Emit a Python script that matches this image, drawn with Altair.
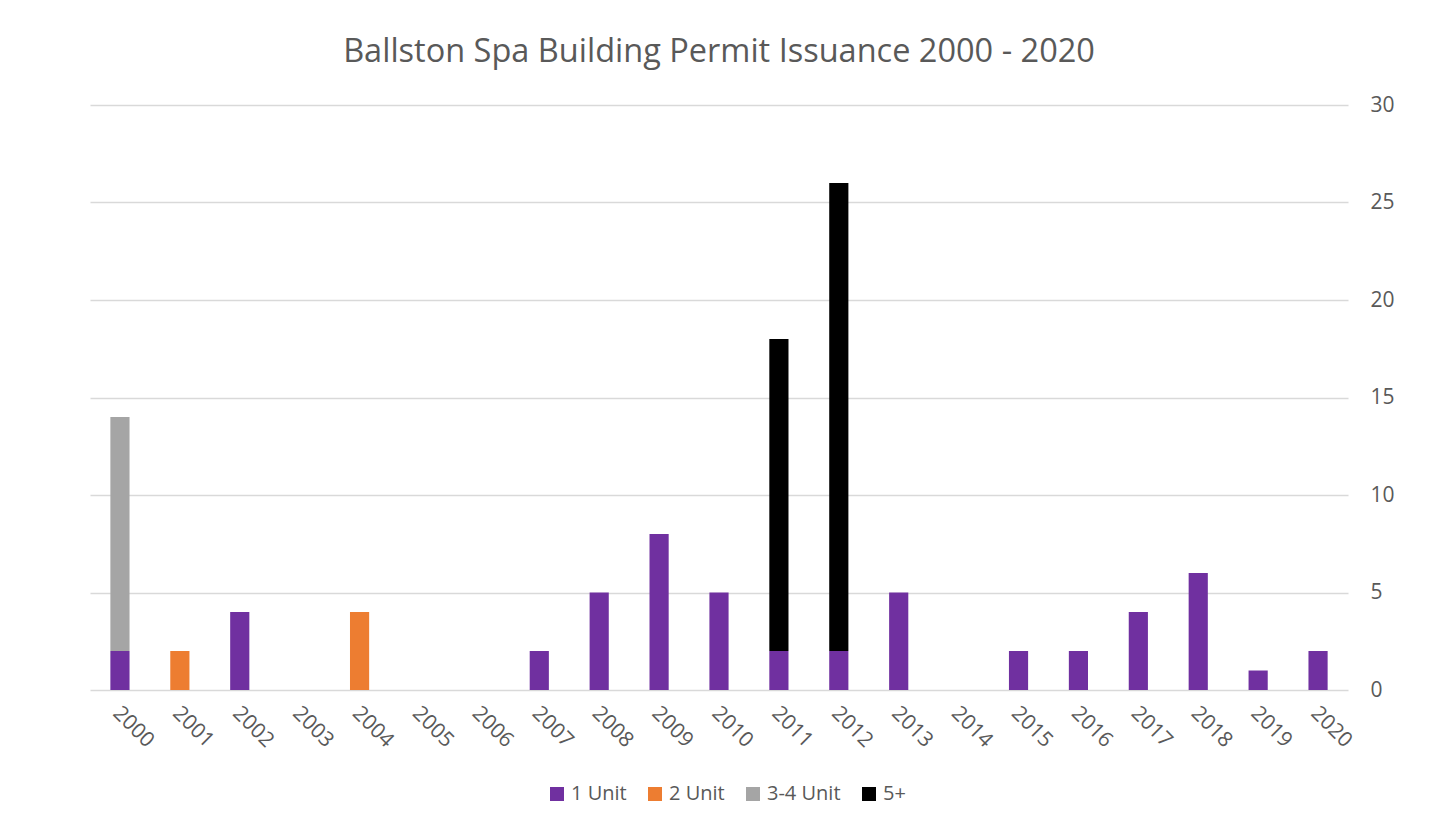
import altair as alt
import pandas as pd

years = [str(y) for y in range(2000, 2021)]
series = ["1 Unit", "2 Unit", "3-4 Unit", "5+"]
colors = ["#7030A0", "#ED7D31", "#A5A5A5", "#000000"]

one_unit = [2, 0, 4, 0, 0, 0, 0, 2, 5, 8, 5, 2, 2, 5, 0, 2, 2, 4, 6, 1, 2]
two_unit = [0, 2, 0, 0, 4, 0, 0, 0, 0, 0, 0, 0, 0, 0, 0, 0, 0, 0, 0, 0, 0]
three_four_unit = [12, 0, 0, 0, 0, 0, 0, 0, 0, 0, 0, 0, 0, 0, 0, 0, 0, 0, 0, 0, 0]
five_plus = [0, 0, 0, 0, 0, 0, 0, 0, 0, 0, 0, 16, 24, 0, 0, 0, 0, 0, 0, 0, 0]

rows = []
for si, (name, vals) in enumerate(zip(series, [one_unit, two_unit, three_four_unit, five_plus])):
    for y, v in zip(years, vals):
        rows.append({"Year": y, "Type": name, "Permits": v, "order": si})
df = pd.DataFrame(rows)

FONT = "Open Sans"
GREY = "#595959"

chart = alt.Chart(df).mark_bar().encode(
    x=alt.X("Year:N", sort=years,
            scale=alt.Scale(paddingInner=0.68, paddingOuter=0.34),
            axis=alt.Axis(title=None, labelAngle=45, labelAlign="left", labelBaseline="top",
                          labelPadding=12, labelOffset=4, domain=False, ticks=False,
                          labelFontSize=21, labelColor=GREY, labelFont=FONT)),
    y=alt.Y("Permits:Q", stack="zero",
            scale=alt.Scale(domain=[0, 30], nice=False),
            axis=alt.Axis(title=None, orient="right", values=[0, 5, 10, 15, 20, 25, 30],
                          domain=False, ticks=False, labelPadding=22, labelAlign="left",
                          grid=True, gridColor="#D9D9D9", gridWidth=1.5,
                          labelFontSize=21, labelColor=GREY, labelFont=FONT)),
    color=alt.Color("Type:N", sort=series,
                    scale=alt.Scale(domain=series, range=colors),
                    legend=alt.Legend(title=None, orient="none", direction="horizontal",
                                      legendX=457, legendY=679, padding=0,
                                      symbolType="square", symbolSize=196, symbolStrokeWidth=0,
                                      labelFontSize=20, labelColor=GREY, labelFont=FONT,
                                      labelOffset=4, columnPadding=18)),
    order=alt.Order("order:Q", sort="ascending"),
).properties(
    width=1258,
    height=585,
    background="white",
    title=alt.TitleParams("Ballston Spa Building Permit Issuance 2000 - 2020",
                          fontSize=32.5, color=GREY, font=FONT, fontWeight="normal",
                          anchor="middle", offset=26),
    autosize=alt.AutoSizeParams(type="none"),
    padding={"left": 82, "top": 97, "right": 93, "bottom": 131},
).configure_view(stroke=None)

chart.save("out.html", embed_options={"renderer": "svg", "actions": False})
